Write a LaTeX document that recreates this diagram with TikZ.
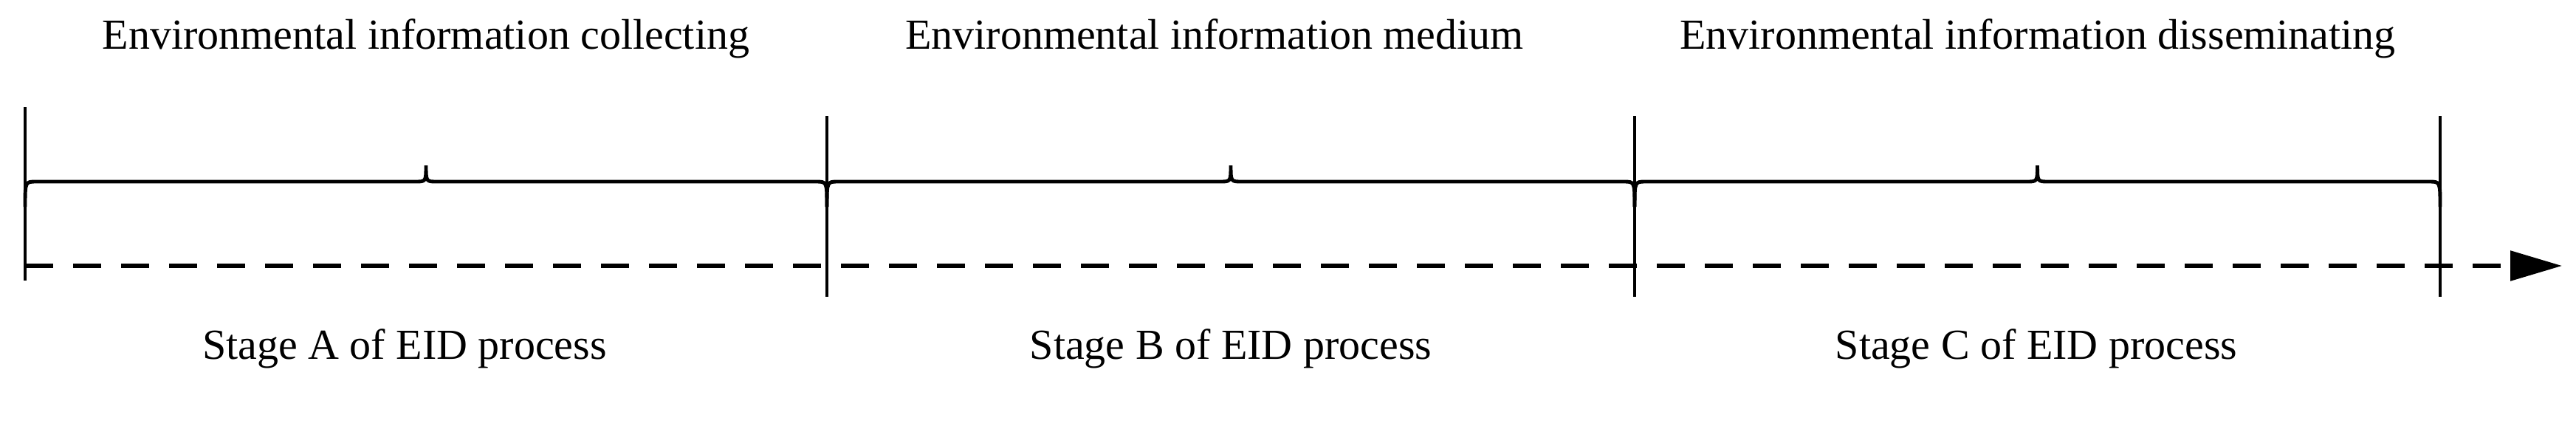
\documentclass[tikz,border=0pt]{standalone}
\usepackage{fontspec}
\setmainfont{Liberation Serif}
\usetikzlibrary{arrows.meta}
\begin{document}
\begin{tikzpicture}[x=1cm,y=1cm,
  tick/.style={line width=0.9pt},
  brc/.style={line width=1.4pt},
  lbl/.style={font=\fontsize{16.5}{18}\selectfont,inner sep=0pt,anchor=base}]
\useasboundingbox (0,0) rectangle (34.89,5.99);
\coordinate (t0) at (0.34,4.54); \coordinate (b0) at (0.34,2.19);
\coordinate (t1) at (11.20,4.42); \coordinate (b1) at (11.20,1.97);
\coordinate (t2) at (22.14,4.42); \coordinate (b2) at (22.14,1.97);
\coordinate (t3) at (33.05,4.42); \coordinate (b3) at (33.05,1.97);
\foreach \i in {0,...,3} \draw[tick] (t\i) -- (b\i);
\foreach \a/\b in {0.34/11.20, 11.20/22.14, 22.14/33.05}{
  \pgfmathsetmacro{\m}{(\a+\b)/2}
  \draw[brc] (\a,3.19) .. controls (\a,3.53) and (\a,3.53) .. (\a+0.15,3.53)
    -- (\m-0.15,3.53) .. controls (\m,3.53) and (\m,3.53) .. (\m,3.75)
    .. controls (\m,3.53) and (\m,3.53) .. (\m+0.15,3.53)
    -- (\b-0.15,3.53) .. controls (\b,3.53) and (\b,3.53) .. (\b,3.19);
}
\coordinate (ds) at (0.34,2.39); \coordinate (de) at (34.70,2.39);
\draw[line width=1.6pt,dash pattern=on 0.38cm off 0.27cm,-{Triangle[length=0.7cm,width=0.4cm]}] (ds) -- (de);
\node[lbl] (h1) at (5.77,5.33) {Environmental information collecting};
\node[lbl] (h2) at (16.45,5.33) {Environmental information medium};
\node[lbl] (h3) at (27.60,5.33) {Environmental information disseminating};
\node[lbl] (s1) at (5.48,1.13) {Stage A of EID process};
\node[lbl] (s2) at (16.67,1.13) {Stage B of EID process};
\node[lbl] (s3) at (27.58,1.13) {Stage C of EID process};
\end{tikzpicture}
\end{document}
